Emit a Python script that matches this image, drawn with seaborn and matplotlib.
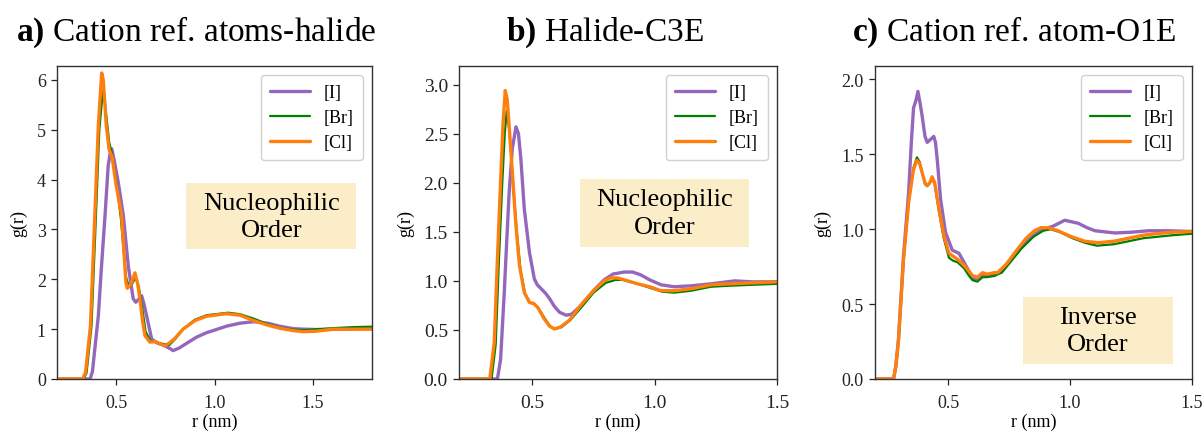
import matplotlib
matplotlib.use("Agg")
import matplotlib.pyplot as plt
from matplotlib.patches import Rectangle
import seaborn as sns

# ---------------- data ----------------
labels = ["[I]", "[Br]", "[Cl]"]

# panel a: Cation ref. atoms-halide
a_I_r = [0.20, 0.368, 0.38, 0.41, 0.425, 0.444, 0.46, 0.471, 0.478, 0.49, 0.511, 0.537, 0.562, 0.587, 0.60, 0.615, 0.630, 0.642, 0.655, 0.681, 0.71, 0.740, 0.765, 0.79, 0.82, 0.86, 0.909, 0.96, 1.00, 1.061, 1.13, 1.20, 1.27, 1.33, 1.40, 1.45, 1.55, 1.65, 1.80]
a_I_g = [0, 0, 0.15, 1.27, 2.2, 3.28, 4.28, 4.55, 4.62, 4.4, 3.95, 3.28, 2.27, 1.61, 1.54, 1.6, 1.67, 1.5, 1.27, 0.80, 0.72, 0.68, 0.63, 0.57, 0.62, 0.72, 0.84, 0.93, 0.98, 1.06, 1.12, 1.15, 1.12, 1.06, 1.01, 1.00, 0.99, 1.0, 1.01]
a_Br_r = [0.20, 0.335, 0.35, 0.375, 0.395, 0.415, 0.435, 0.45, 0.465, 0.48, 0.50, 0.525, 0.55, 0.565, 0.58, 0.60, 0.615, 0.63, 0.65, 0.675, 0.70, 0.73, 0.77, 0.80, 0.84, 0.90, 0.96, 1.07, 1.13, 1.20, 1.27, 1.33, 1.40, 1.46, 1.52, 1.60, 1.70, 1.80]
a_Br_g = [0, 0, 0.12, 1.05, 3.0, 5.0, 5.88, 5.3, 4.75, 4.5, 4.0, 3.2, 2.05, 1.85, 1.9, 2.05, 1.85, 1.5, 0.95, 0.76, 0.74, 0.71, 0.68, 0.80, 1.0, 1.19, 1.28, 1.33, 1.30, 1.21, 1.10, 1.03, 0.99, 0.98, 1.0, 1.02, 1.04, 1.05]
a_Cl_r = [0.20, 0.33, 0.345, 0.37, 0.39, 0.41, 0.427, 0.435, 0.45, 0.465, 0.48, 0.50, 0.528, 0.55, 0.557, 0.575, 0.596, 0.61, 0.621, 0.635, 0.647, 0.672, 0.70, 0.72, 0.748, 0.77, 0.80, 0.84, 0.90, 0.96, 1.06, 1.13, 1.20, 1.27, 1.33, 1.40, 1.45, 1.52, 1.60, 1.70, 1.80]
a_Cl_g = [0, 0, 0.13, 1.07, 3.08, 5.09, 6.14, 6.0, 5.1, 4.6, 4.45, 3.9, 3.28, 1.94, 1.82, 1.9, 2.13, 1.9, 1.61, 1.15, 0.87, 0.74, 0.75, 0.71, 0.67, 0.72, 0.82, 1.00, 1.17, 1.26, 1.31, 1.28, 1.17, 1.08, 1.02, 0.97, 0.95, 0.96, 1.00, 1.00, 1.00]

# panel b: Halide-C3E
b_I_r = [0.20, 0.357, 0.37, 0.385, 0.395, 0.405, 0.418, 0.433, 0.443, 0.453, 0.467, 0.488, 0.508, 0.52, 0.536, 0.555, 0.57, 0.59, 0.611, 0.638, 0.66, 0.70, 0.75, 0.793, 0.83, 0.875, 0.91, 0.944, 0.98, 1.026, 1.08, 1.15, 1.23, 1.327, 1.40, 1.50]
b_I_g = [0, 0, 0.2, 0.88, 1.4, 1.90, 2.35, 2.57, 2.5, 2.24, 1.73, 1.29, 1.02, 0.96, 0.92, 0.87, 0.82, 0.74, 0.68, 0.65, 0.66, 0.75, 0.90, 1.01, 1.07, 1.09, 1.09, 1.06, 1.01, 0.96, 0.94, 0.95, 0.97, 1.00, 0.99, 0.99]
b_Br_r = [0.20, 0.333, 0.35, 0.363, 0.377, 0.387, 0.395, 0.405, 0.413, 0.425, 0.438, 0.452, 0.47, 0.49, 0.51, 0.53, 0.555, 0.575, 0.595, 0.62, 0.655, 0.70, 0.75, 0.80, 0.84, 0.87, 0.93, 0.98, 1.03, 1.08, 1.15, 1.23, 1.30, 1.40, 1.50]
b_Br_g = [0, 0, 0.35, 1.2, 2.0, 2.5, 2.73, 2.55, 2.3, 1.85, 1.45, 1.1, 0.87, 0.78, 0.76, 0.70, 0.60, 0.53, 0.51, 0.53, 0.60, 0.73, 0.88, 0.98, 1.01, 1.01, 0.97, 0.93, 0.89, 0.88, 0.90, 0.94, 0.95, 0.96, 0.97]
b_Cl_r = [0.20, 0.326, 0.344, 0.357, 0.371, 0.38, 0.389, 0.397, 0.405, 0.419, 0.433, 0.447, 0.467, 0.488, 0.505, 0.522, 0.549, 0.57, 0.59, 0.615, 0.652, 0.697, 0.75, 0.793, 0.82, 0.848, 0.89, 0.93, 0.98, 1.026, 1.08, 1.15, 1.231, 1.30, 1.40, 1.50]
b_Cl_g = [0, 0, 0.37, 1.22, 2.07, 2.6, 2.94, 2.85, 2.58, 2.07, 1.56, 1.16, 0.88, 0.78, 0.77, 0.73, 0.61, 0.54, 0.51, 0.53, 0.60, 0.75, 0.90, 1.00, 1.03, 1.03, 1.00, 0.97, 0.94, 0.90, 0.90, 0.92, 0.96, 0.97, 0.98, 0.99]

# panel c: Cation ref. atom-O1E
c_I_r = [0.20, 0.276, 0.285, 0.296, 0.317, 0.338, 0.349, 0.358, 0.368, 0.376, 0.385, 0.393, 0.405, 0.414, 0.428, 0.441, 0.448, 0.455, 0.469, 0.489, 0.517, 0.544, 0.565, 0.585, 0.60, 0.62, 0.641, 0.66, 0.689, 0.72, 0.76, 0.80, 0.85, 0.89, 0.93, 0.978, 1.033, 1.07, 1.102, 1.185, 1.25, 1.323, 1.40, 1.50]
c_I_g = [0, 0, 0.08, 0.26, 0.82, 1.25, 1.58, 1.81, 1.86, 1.92, 1.84, 1.76, 1.62, 1.58, 1.60, 1.62, 1.58, 1.47, 1.20, 0.98, 0.86, 0.84, 0.78, 0.72, 0.67, 0.67, 0.70, 0.69, 0.69, 0.72, 0.80, 0.88, 0.96, 1.00, 1.02, 1.06, 1.04, 1.01, 0.99, 0.975, 0.98, 0.99, 0.99, 0.985]
c_Br_r = [0.20, 0.276, 0.285, 0.296, 0.317, 0.338, 0.358, 0.372, 0.383, 0.393, 0.405, 0.414, 0.425, 0.434, 0.445, 0.462, 0.482, 0.503, 0.52, 0.538, 0.565, 0.585, 0.60, 0.62, 0.641, 0.66, 0.689, 0.72, 0.76, 0.80, 0.85, 0.89, 0.92, 0.96, 1.01, 1.06, 1.11, 1.18, 1.24, 1.30, 1.36, 1.42, 1.50]
c_Br_g = [0, 0, 0.08, 0.25, 0.80, 1.18, 1.41, 1.48, 1.45, 1.38, 1.30, 1.29, 1.31, 1.34, 1.30, 1.12, 0.94, 0.81, 0.79, 0.78, 0.74, 0.69, 0.66, 0.65, 0.68, 0.68, 0.69, 0.71, 0.79, 0.87, 0.95, 0.99, 1.00, 0.98, 0.94, 0.91, 0.89, 0.90, 0.92, 0.94, 0.95, 0.96, 0.97]
c_Cl_r = [0.20, 0.276, 0.285, 0.296, 0.317, 0.338, 0.358, 0.372, 0.383, 0.393, 0.405, 0.414, 0.425, 0.434, 0.445, 0.462, 0.482, 0.503, 0.52, 0.538, 0.565, 0.585, 0.60, 0.62, 0.641, 0.66, 0.689, 0.703, 0.74, 0.786, 0.82, 0.854, 0.88, 0.91, 0.95, 1.006, 1.06, 1.116, 1.18, 1.24, 1.30, 1.35, 1.42, 1.50]
c_Cl_g = [0, 0, 0.08, 0.25, 0.80, 1.18, 1.40, 1.46, 1.44, 1.38, 1.31, 1.29, 1.31, 1.35, 1.31, 1.14, 0.96, 0.84, 0.82, 0.80, 0.76, 0.72, 0.69, 0.68, 0.71, 0.70, 0.71, 0.71, 0.77, 0.87, 0.94, 0.99, 1.01, 1.01, 0.99, 0.95, 0.92, 0.91, 0.92, 0.94, 0.96, 0.97, 0.98, 0.985]

titles_bold = ["a)", "b)", "c)"]
titles_text = ["Cation ref. atoms-halide", "Halide-C3E", "Cation ref. atom-O1E"]
notes = ["Nucleophilic\nOrder", "Nucleophilic\nOrder", "Inverse\nOrder"]
xlims = [(0.2, 1.8), (0.2, 1.5), (0.2, 1.5)]
ylims = [(0, 6.28), (0, 3.19), (0, 2.09)]
yticks = [[0, 1, 2, 3, 4, 5, 6], [0.0, 0.5, 1.0, 1.5, 2.0, 2.5, 3.0], [0.0, 0.5, 1.0, 1.5, 2.0]]
ytick_fmt = ["{:.0f}", "{:.1f}", "{:.1f}"]
xticks = [0.5, 1.0, 1.5]

# ---------------- style ----------------
sns.set_theme(style="ticks")
plt.rcParams["font.family"] = ["Liberation Serif", "DejaVu Serif"]
plt.rcParams["mathtext.fontset"] = "custom"
plt.rcParams["mathtext.rm"] = "Liberation Serif"
plt.rcParams["mathtext.bf"] = "Liberation Serif:bold"
plt.rcParams["text.color"] = "black"
plt.rcParams["axes.labelcolor"] = "black"

colors = ["#9467bd", "#008000", "#ff7f0e"]
widths = [2.4, 1.6, 2.4]

fig = plt.figure(figsize=(12.03, 4.35), dpi=100)
axes_rect = [
    [57 / 1203, 55 / 435, 315 / 1203, 313 / 435],
    [459 / 1203, 55 / 435, 318 / 1203, 313 / 435],
    [875 / 1203, 55 / 435, 317 / 1203, 313 / 435],
]
panel_data = [
    [(a_I_r, a_I_g), (a_Br_r, a_Br_g), (a_Cl_r, a_Cl_g)],
    [(b_I_r, b_I_g), (b_Br_r, b_Br_g), (b_Cl_r, b_Cl_g)],
    [(c_I_r, c_I_g), (c_Br_r, c_Br_g), (c_Cl_r, c_Cl_g)],
]
note_box = [(0.41, 0.415, 0.95, 0.626), (0.380, 0.422, 0.912, 0.639), (0.466, 0.048, 0.941, 0.262)]
tick_size = [13, 14, 13]
title_pos = [(196 / 1203, 1 - 41 / 435), (605 / 1203, 1 - 41 / 435), (1014 / 1203, 1 - 41 / 435)]

for i in range(3):
    ax = fig.add_axes(axes_rect[i])
    for (r, g), lab, col, lw in zip(panel_data[i], labels, colors, widths):
        sns.lineplot(x=r, y=g, ax=ax, color=col, linewidth=lw, label=lab,
                     sort=False, estimator=None)
    ax.set_xlim(*xlims[i])
    ax.set_ylim(*ylims[i])
    ax.set_xticks(xticks)
    ax.set_xticklabels([f"{t:.1f}" for t in xticks])
    ax.set_yticks(yticks[i])
    ax.set_yticklabels([ytick_fmt[i].format(t) for t in yticks[i]])
    ax.tick_params(labelsize=tick_size[i], length=4.5, width=0.9, colors="#222222")
    ax.tick_params(axis="x", pad=6)
    ax.tick_params(axis="y", pad=3.5)
    ax.set_xlabel("r (nm)", fontsize=13, labelpad=1.5)
    ax.set_ylabel("g(r)", fontsize=13, labelpad=7)
    for s in ax.spines.values():
        s.set_color("#333333")
        s.set_linewidth(1.0)
    ax.legend(loc="upper right", fontsize=13, handlelength=2.2, labelspacing=0.45,
              borderpad=0.5, frameon=True, framealpha=0.9, edgecolor="#cccccc")
    x0, y0, x1, y1 = note_box[i]
    ax.add_patch(Rectangle((x0, y0), x1 - x0, y1 - y0, transform=ax.transAxes,
                           facecolor="#fcedc9", edgecolor="none", zorder=1))
    ax.text((x0 + x1) / 2, (y0 + y1) / 2, notes[i], transform=ax.transAxes,
            ha="center", va="center", fontsize=19, linespacing=1.3, zorder=2,
            color="black")
    fig.text(title_pos[i][0], title_pos[i][1],
             r"$\mathbf{" + titles_bold[i] + r"}$ " + titles_text[i],
             ha="center", va="baseline", fontsize=24, color="black")

fig.savefig("out.png", dpi=100)
